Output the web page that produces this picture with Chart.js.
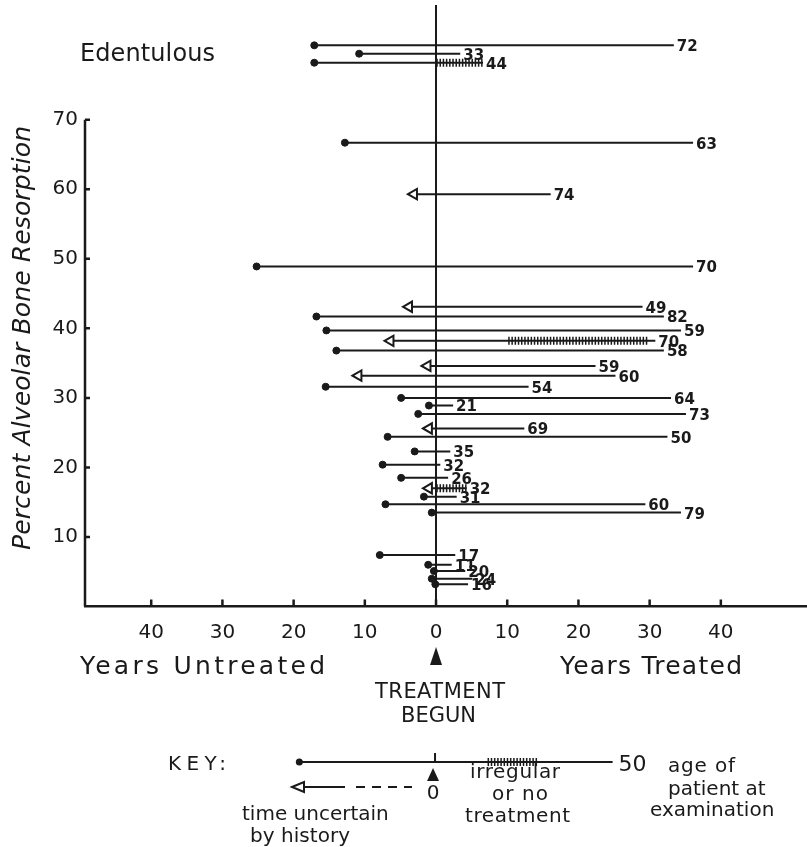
<!DOCTYPE html>
<html>
<head>
<meta charset="utf-8">
<script src="https://cdn.jsdelivr.net/npm/chart.js@4/dist/chart.umd.min.js"></script>
<style>
  html, body { margin: 0; padding: 0; background: #fff; overflow: hidden; }
  #wrap { width: 807px; height: 847px; }
</style>
</head>
<body>
<div id="wrap"><canvas id="boneChart"></canvas></div>
<script>
// one row per patient, top to bottom; the first three are the edentulous patients
// (placed above the 70% mark, as in the original figure)
const resorption = [80.7, 79.5, 78.2, 66.7, 59.3, 48.9, 43.1, 41.7, 39.7, 38.2, 36.8, 34.6, 33.2, 31.6, 30.0, 28.9,
  27.7, 25.6, 24.4, 22.3, 20.4, 18.5, 17.0, 15.8, 14.7, 13.5, 7.4, 6.0, 5.1, 4.0, 3.2];
const yearsUntreated = [17.1, 10.8, 17.1, 12.8, 3.1, 25.2, 3.8, 16.8, 15.4, 6.4, 14.0, 1.2, 10.9, 15.5, 4.9, 1.0,
  2.5, 1.0, 6.8, 3.0, 7.5, 4.9, 1.0, 1.7, 7.1, 0.6, 7.9, 1.1, 0.3, 0.6, 0.1];
const yearsTreated = [33.4, 3.4, 6.6, 36.1, 16.1, 36.1, 29.0, 32.0, 34.4, 30.8, 32.0, 22.4, 25.2, 13.0, 33.0, 2.4,
  35.1, 12.4, 32.5, 2.0, 0.6, 1.7, 4.3, 2.9, 29.4, 34.4, 2.7, 2.2, 4.1, 5.1, 4.5];
const uncertain = [false, false, false, false, true, false, true, false, false, true, false, true, true, false, false, false,
  false, true, false, false, false, false, true, false, false, false, false, false, false, false, false];
const ages = [72, 33, 44, 63, 74, 70, 49, 82, 59, 70, 58, 59, 60, 54, 64, 21, 73, 69, 50, 35, 32, 26, 32, 31, 60, 79,
  17, 11, 20, 24, 16];
// irregular or no treatment (years treated)
const irregularFrom = [null, null, 0, null, null, null, null, null, null, 10.1, null, null, null, null, null, null,
  null, null, null, null, null, null, 0, null, null, null, null, null, null, null, null];
const irregularTo = [null, null, 6.6, null, null, null, null, null, null, 29.7, null, null, null, null, null, null,
  null, null, null, null, null, null, 4.3, null, null, null, null, null, null, null, null];

const yTicks = [10, 20, 30, 40, 50, 60, 70];
const xTicks = [-40, -30, -20, -10, 0, 10, 20, 30, 40];

// key: example bar (years), age 50
const keyFrom = -19.2, keyTo = 24.8, keyIrrFrom = 7.2, keyIrrTo = 14.2, keyAge = 50;

const INK = '#1a1a1a';
const HAND = '"DejaVu Sans", sans-serif';

const datasets = resorption.map((y, i) => ({
  data: [{ x: -yearsUntreated[i], y: y }, { x: yearsTreated[i], y: y }],
  showLine: true,
  borderColor: INK,
  borderWidth: 2,
  pointStyle: [uncertain[i] ? 'triangle' : 'circle', 'circle'],
  pointRotation: [uncertain[i] ? -90 : 0, 0],
  pointRadius: [uncertain[i] ? 6 : 3.5, 0],
  pointBackgroundColor: [uncertain[i] ? '#fff' : INK, INK],
  pointBorderColor: INK,
  pointBorderWidth: [uncertain[i] ? 2 : 1, 0],
}));

function hatch(ctx, x1, x2, y, step) {
  ctx.beginPath();
  for (let x = x1 + 1; x <= x2; x += step) {
    ctx.moveTo(x, y - 4);
    ctx.lineTo(x, y + 4);
  }
  ctx.stroke();
}

// draw text stretched (by letter spacing) to a given width
function fitText(ctx, text, x, y, width) {
  ctx.letterSpacing = '0px';
  const natural = ctx.measureText(text).width;
  const sp = Math.max(0, (width - natural) / Math.max(1, text.length - 1));
  ctx.letterSpacing = sp + 'px';
  ctx.fillText(text, x, y);
  ctx.letterSpacing = '0px';
}

const extras = {
  id: 'extras',
  afterDatasetsDraw(chart) {
    const { ctx, chartArea, scales: { x, y } } = chart;
    ctx.save();
    ctx.strokeStyle = INK;
    ctx.fillStyle = INK;

    // left axis only up to 70
    ctx.lineWidth = 2.5;
    ctx.beginPath();
    ctx.moveTo(chartArea.left, y.getPixelForValue(0));
    ctx.lineTo(chartArea.left, y.getPixelForValue(70));
    yTicks.forEach(v => {
      ctx.moveTo(chartArea.left, y.getPixelForValue(v));
      ctx.lineTo(chartArea.left + 5, y.getPixelForValue(v));
    });
    xTicks.forEach(v => {
      ctx.moveTo(x.getPixelForValue(v), chartArea.bottom);
      ctx.lineTo(x.getPixelForValue(v), chartArea.bottom - 7);
    });
    ctx.stroke();

    // irregular treatment hatching
    ctx.lineWidth = 1.5;
    resorption.forEach((v, i) => {
      if (irregularFrom[i] === null) return;
      hatch(ctx, x.getPixelForValue(irregularFrom[i]), x.getPixelForValue(irregularTo[i]), y.getPixelForValue(v), 3.2);
    });

    // ages
    ctx.font = 'bold 15px ' + HAND;
    ctx.textAlign = 'left';
    ctx.textBaseline = 'middle';
    resorption.forEach((v, i) => {
      ctx.fillText(String(ages[i]), x.getPixelForValue(yearsTreated[i]) + 3, y.getPixelForValue(v) + 2);
    });

    // titles
    ctx.font = '24px ' + HAND;
    ctx.textBaseline = 'alphabetic';
    fitText(ctx, 'Edentulous', 80, 61, 135);

    ctx.save();
    ctx.translate(30, 338);
    ctx.rotate(-Math.PI / 2);
    ctx.font = 'italic 25px ' + HAND;
    fitText(ctx, 'Percent Alveolar Bone Resorption', -212, 0, 424);
    ctx.restore();

    const x0 = x.getPixelForValue(0);
    ctx.font = '25px ' + HAND;
    fitText(ctx, 'Years Untreated', 80, 674, 245);
    fitText(ctx, 'Years Treated', 560, 674, 182);

    ctx.beginPath();
    ctx.moveTo(x0, 647);
    ctx.lineTo(x0 + 6, 665);
    ctx.lineTo(x0 - 6, 665);
    ctx.closePath();
    ctx.fill();
    ctx.font = '21px ' + HAND;
    fitText(ctx, 'TREATMENT', 375, 698, 130);
    fitText(ctx, 'BEGUN', 401, 722, 69);

    // key
    const ky = 762;
    ctx.font = '20px ' + HAND;
    fitText(ctx, 'KEY:', 168, 770, 58);
    ctx.lineWidth = 2;
    ctx.beginPath();
    ctx.moveTo(x.getPixelForValue(keyFrom), ky);
    ctx.lineTo(x.getPixelForValue(keyTo), ky);
    ctx.moveTo(x0 - 1, ky);
    ctx.lineTo(x0 - 1, ky - 9);
    ctx.stroke();
    ctx.beginPath();
    ctx.arc(x.getPixelForValue(keyFrom), ky, 3.5, 0, Math.PI * 2);
    ctx.fill();
    ctx.lineWidth = 1.5;
    hatch(ctx, x.getPixelForValue(keyIrrFrom), x.getPixelForValue(keyIrrTo), ky, 3.2);
    ctx.font = '22px ' + HAND;
    ctx.fillText(String(keyAge), x.getPixelForValue(keyTo) + 6, 771);

    ctx.beginPath();
    ctx.moveTo(x0 - 3, 768);
    ctx.lineTo(x0 + 3, 781);
    ctx.lineTo(x0 - 9, 781);
    ctx.closePath();
    ctx.fill();

    // open arrow with dashed tail
    ctx.lineWidth = 2;
    ctx.beginPath();
    ctx.moveTo(292, 787);
    ctx.lineTo(304, 782);
    ctx.lineTo(304, 792);
    ctx.closePath();
    ctx.stroke();
    ctx.beginPath();
    ctx.moveTo(304, 787);
    ctx.lineTo(345, 787);
    ctx.stroke();
    ctx.setLineDash([9, 7]);
    ctx.beginPath();
    ctx.moveTo(356, 787);
    ctx.lineTo(412, 787);
    ctx.stroke();
    ctx.setLineDash([]);

    ctx.font = '20px ' + HAND;
    ctx.textAlign = 'center';
    ctx.fillText('0', x0 - 3, 799);
    ctx.textAlign = 'left';
    fitText(ctx, 'irregular', 470, 778, 90);
    fitText(ctx, 'or no', 492, 800, 56);
    fitText(ctx, 'treatment', 465, 822, 105);
    fitText(ctx, 'time uncertain', 242, 820, 138);
    fitText(ctx, 'by history', 250, 842, 100);
    fitText(ctx, 'age of', 668, 772, 67);
    fitText(ctx, 'patient at', 668, 795, 92);
    fitText(ctx, 'examination', 650, 816, 122);
    ctx.restore();
  }
};

new Chart(document.getElementById('boneChart'), {
  type: 'scatter',
  data: { datasets },
  options: {
    responsive: true,
    maintainAspectRatio: false,
    animation: false,
    layout: { autoPadding: false, padding: { top: 5, left: 0, right: 0, bottom: 0 } },
    plugins: { legend: { display: false }, tooltip: { enabled: false } },
    scales: {
      x: {
        type: 'linear',
        min: -49.3,
        max: 52.1,
        afterBuildTicks: s => { s.ticks = xTicks.map(v => ({ value: v })); },
        afterFit: s => { s.height = 240.5; s.paddingLeft = 0; s.paddingRight = 0; },
        grid: {
          drawTicks: false,
          lineWidth: 2,
          color: c => (c.tick && c.tick.value === 0 ? INK : 'rgba(0,0,0,0)'),
        },
        border: { color: INK, width: 2.5 },
        ticks: {
          padding: 14,
          color: INK,
          font: { family: HAND, size: 20 },
          callback: v => Math.abs(v),
        },
      },
      y: {
        type: 'linear',
        min: 0,
        max: 86.5,
        afterBuildTicks: s => { s.ticks = yTicks.map(v => ({ value: v })); },
        afterFit: s => { s.width = 85; s.paddingTop = 0; s.paddingBottom = 0; },
        grid: { display: false, drawTicks: false },
        border: { display: false },
        ticks: {
          padding: 7,
          color: INK,
          font: { family: HAND, size: 20 },
        },
      },
    },
  },
  plugins: [extras],
});
</script>
</body>
</html>
